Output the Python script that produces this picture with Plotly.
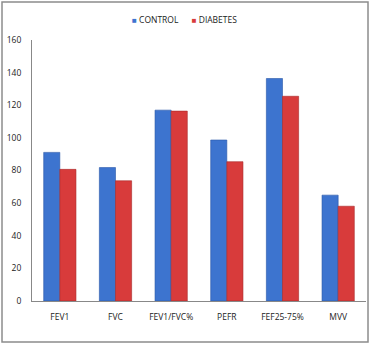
import plotly.graph_objects as go

categories = ["FEV1", "FVC", "FEV1/FVC%", "PEFR", "FEF25-75%", "MVV"]
control = [91.1, 81.8, 117.0, 98.7, 136.4, 64.9]
diabetes = [80.7, 73.7, 116.4, 85.4, 125.5, 58.1]
y_ticks = [0, 20, 40, 60, 80, 100, 120, 140, 160]
series_names = ["CONTROL", "DIABETES"]
series_colors = ["#3d74cf", "#d83b3b"]
edge_colors = ["#2a57a8", "#a82a2a"]

fig = go.Figure()
for name, vals, col, edge in zip(series_names, [control, diabetes], series_colors, edge_colors):
    fig.add_trace(go.Bar(name=name, x=categories, y=vals, showlegend=False,
                         marker=dict(color=col, line=dict(color=edge, width=0.6))))

font = dict(family="Open Sans, Noto Sans, sans-serif", size=8.5, color="#222222")

legend_text = "&nbsp;&nbsp;&nbsp;&nbsp;&nbsp;&nbsp;".join(
    f"<span style='color:{c}; font-size:8px'>■</span> {n}" for n, c in zip(series_names, series_colors)
)

fig.update_layout(
    width=371, height=345,
    margin=dict(l=32, r=5, t=40, b=44),
    paper_bgcolor="white", plot_bgcolor="white",
    barmode="group", bargap=0.42, bargroupgap=0,
    font=font,
    showlegend=False,
    xaxis=dict(showgrid=False, showline=True, linecolor="#888888", linewidth=1,
               ticks="", tickfont=font, ticklabelstandoff=8),
    yaxis=dict(range=[0, 160], tickvals=y_ticks, showgrid=False, showline=True,
               linecolor="#888888", linewidth=1, ticks="", tickfont=font,
               zeroline=False, ticklabelstandoff=8),
    annotations=[dict(text=legend_text, xref="paper", yref="paper",
                      x=0.458, y=1.08, xanchor="center", yanchor="middle",
                      showarrow=False, font=font)],
    shapes=[dict(type="rect", xref="paper", yref="paper",
                 x0=-0.0898, x1=1.006, y0=-0.157, y1=1.1456,
                 line=dict(color="#8c8c8c", width=1.5), fillcolor="rgba(0,0,0,0)")],
)

fig.write_html("out.html")
